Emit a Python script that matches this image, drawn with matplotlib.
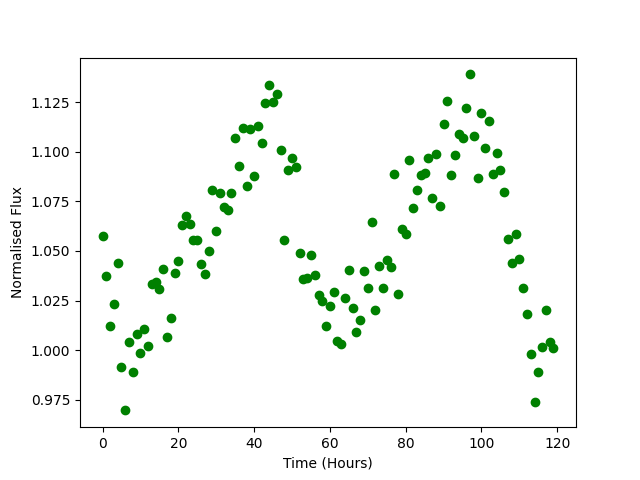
import matplotlib
matplotlib.use("Agg")
import matplotlib.pyplot as plt

hours = list(range(120))
flux = [
    1.0573, 1.0375, 1.0123, 1.0234, 1.0440, 0.9913, 0.9696, 1.0042, 0.9891, 1.0083,
    0.9985, 1.0108, 1.0019, 1.0335, 1.0343, 1.0309, 1.0410, 1.0064, 1.0160, 1.0390,
    1.0451, 1.0632, 1.0674, 1.0637, 1.0553, 1.0553, 1.0432, 1.0385, 1.0502, 1.0808,
    1.0602, 1.0793, 1.0719, 1.0706, 1.0793, 1.1071, 1.0929, 1.1121, 1.0829, 1.1116,
    1.0879, 1.1131, 1.1045, 1.1247, 1.1339, 1.1249, 1.1289, 1.1007, 1.0556, 1.0906,
    1.0970, 1.0924, 1.0491, 1.0360, 1.0366, 1.0477, 1.0380, 1.0276, 1.0250, 1.0119,
    1.0224, 1.0291, 1.0044, 1.0032, 1.0261, 1.0405, 1.0214, 1.0093, 1.0150, 1.0397,
    1.0314, 1.0647, 1.0204, 1.0425, 1.0314, 1.0452, 1.0418, 1.0889, 1.0284, 1.0612,
    1.0587, 1.0956, 1.0714, 1.0805, 1.0884, 1.0894, 1.0970, 1.0765, 1.0990, 1.0728,
    1.1141, 1.1257, 1.0884, 1.0985, 1.1092, 1.1071, 1.1222, 1.1390, 1.1081, 1.0870,
    1.1197, 1.1020, 1.1156, 1.0887, 1.0995, 1.0906, 1.0798, 1.0561, 1.0441, 1.0587,
    1.0461, 1.0314, 1.0183, 0.9982, 0.9736, 0.9891, 1.0017, 1.0204, 1.0042, 1.0012,
]

plt.figure(figsize=(6.4, 4.8), dpi=100)
plt.plot(hours, flux, 'o', color='green')
plt.xlabel("Time (Hours)")
plt.ylabel("Normalised Flux")
plt.savefig("out.png")
